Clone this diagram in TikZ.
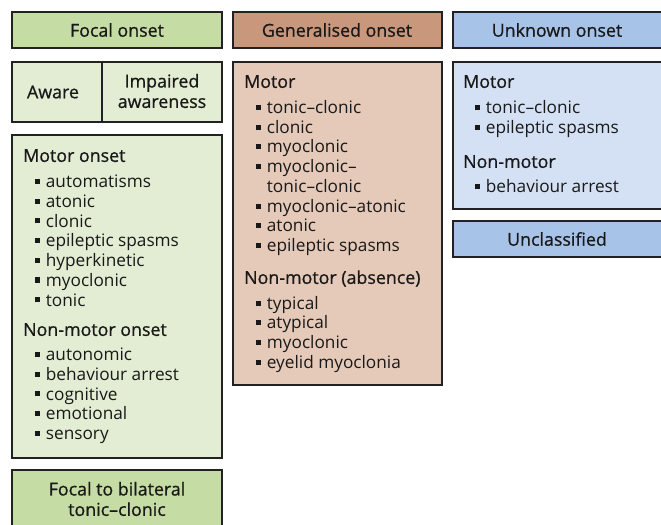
\documentclass[tikz,border=0pt]{standalone}
\usepackage{fontspec}
\setmainfont{Open Sans}
\newfontfamily\medfont[FakeBold=0.8,Ligatures=TeX]{Open Sans}
\definecolor{focalhd}{HTML}{C6DCA5}
\definecolor{focalbd}{HTML}{E2EDD3}
\definecolor{genhd}{HTML}{C9977B}
\definecolor{genbd}{HTML}{E5CAB9}
\definecolor{unkhd}{HTML}{A7C3E8}
\definecolor{unkbd}{HTML}{D4E1F4}
\definecolor{edge}{HTML}{222222}
\newcommand{\sqb}{\rule[0.22em]{0.3em}{0.3em}\hspace{0.32em}}
\newcommand{\nob}{\hphantom{\sqb}}
\tikzset{
  box/.style={draw=edge,line width=1.6pt},
  txt/.style={inner sep=0pt,font=\medfont\fontsize{15.2}{17.4}\selectfont,text=black!90},
  head/.style={txt,anchor=west,text height=0.66em,text depth=0em,yshift=-0.06cm},
  item/.style={inner sep=0pt,font=\fontsize{14.7}{17}\selectfont,text=black!90,
    anchor=west,text height=0.6em,text depth=0em,yshift=-0.07cm},
}
\begin{document}
\begin{tikzpicture}[x=0.03cm,y=-0.03cm]
\useasboundingbox (0,0) rectangle (661,525);
\clip (0,0) rectangle (661,525);
% cac khung
\draw[box,fill=focalhd] (12,12) rectangle (222,48);
\draw[box,fill=focalbd] (12,62) rectangle (222,122) (102,62)--(102,122);
\draw[box,fill=focalbd] (12,135) rectangle (222,458);
\draw[box,fill=focalhd] (12,470) rectangle (222,540);
\draw[box,fill=genhd] (233,12) rectangle (442,48);
\draw[box,fill=genbd] (233,62) rectangle (442,385);
\draw[box,fill=unkhd] (453,12) rectangle (670,48);
\draw[box,fill=unkbd] (453,62) rectangle (670,209);
\draw[box,fill=unkhd] (453,221) rectangle (670,257);
% tieu de
\path (117,30) node[txt] (focal) {Focal onset}
      (337,30) node[txt] (gen) {Generalised onset}
      (557,30) node[txt] (unk) {Unknown onset}
      (557,239) node[txt] (uncl) {Unclassified}
      (53,92) node[txt] (aware) {Aware}
      (162,91) node[txt,align=center] (impaired) {Impaired\\awareness}
      (117,499) node[txt,align=center] (fbtc) {Focal to bilateral\\tonic--clonic};
\foreach \x/\y/\t in {23/156/Motor onset,23/330/Non-motor onset,244/82/Motor,
  244/278/Non-motor (absence),463/82/Motor,463/162/Non-motor}
  \path (\x,\y) node[head] (h\x\y) {\t};
% danh sach
\foreach \t [count=\i from 0] in {automatisms,atonic,clonic,epileptic spasms,hyperkinetic,myoclonic,tonic}
  \path (35,182+19.7*\i) node[item] (fm\i) {\sqb\t};
\foreach \t [count=\i from 0] in {autonomic,behaviour arrest,cognitive,emotional,sensory}
  \path (35,355+19.7*\i) node[item] (fn\i) {\sqb\t};
\foreach \t/\y [count=\i] in {\sqb tonic--clonic/108,\sqb clonic/128,\sqb myoclonic/147,
  \sqb myoclonic--/167,\nob tonic--clonic/187,\sqb myoclonic--atonic/207,
  \sqb atonic/226,\sqb epileptic spasms/246,\sqb typical/304,\sqb atypical/323,
  \sqb myoclonic/343,\sqb eyelid myoclonia/363}
  \path (256,\y) node[item] (g\i) {\t};
\foreach \t/\y [count=\i] in {tonic--clonic/108,epileptic spasms/128,behaviour arrest/187}
  \path (475,\y) node[item] (u\i) {\sqb\t};
\end{tikzpicture}
\end{document}
